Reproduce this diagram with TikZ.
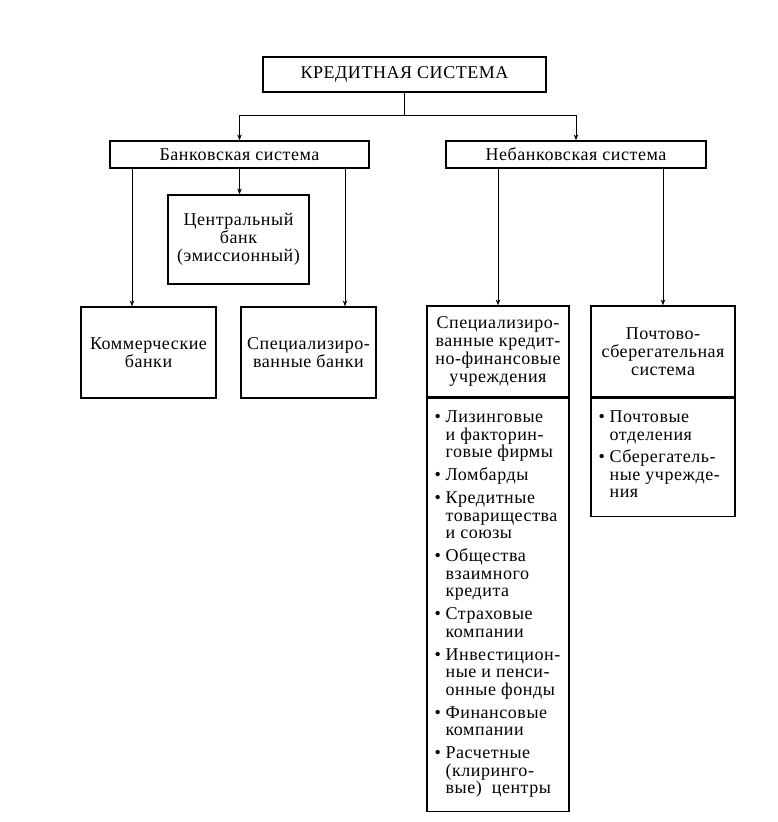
\documentclass[tikz,border=0pt]{standalone}
\usepackage{fontspec}
\setmainfont{Liberation Serif}[LetterSpace=3]
\usetikzlibrary{arrows.meta}
\newcommand{\bitem}[1]{\par\hangindent=11pt\hangafter=1\noindent\makebox[11pt][l]{•}#1}
\newcommand{\blist}[3]{\parbox[t]{#1}{\raggedright\fontsize{18}{17.5}\selectfont\parskip=#2\relax #3}}
\begin{document}
\begin{tikzpicture}[x=1pt,y=-1pt,
  box/.style={draw, line width=1.2pt, inner sep=0pt, align=center, font=\fontsize{18}{18}\selectfont},
  listbox/.style={draw, line width=1.2pt, inner sep=0pt},
  listtext/.style={anchor=north west, inner sep=0pt},
  conn/.style={line width=1pt},
  arr/.style={conn, -{Stealth[length=6pt,width=4.5pt]}}]
\useasboundingbox (0,0) rectangle (778,822);
\node[box, minimum width=283pt, minimum height=35pt] (top) at (404.5,74.5) {КРЕДИТНАЯ СИСТЕМА};
\node[box, minimum width=259pt, minimum height=27pt] (bank) at (239.5,154.5) {Банковская система};
\node[box, minimum width=260pt, minimum height=27pt] (nonbank) at (576,154.5) {Небанковская система};
\node[box, minimum width=141pt, minimum height=89pt] (central) at (238.5,239.5) {Центральный\\банк\\(эмиссионный)};
\node[box, minimum width=135pt, minimum height=91pt] (comm) at (148.5,352.5) {Коммерческие\\банки};
\node[box, minimum width=135pt, minimum height=91pt] (specb) at (308.5,352.5) {Специализиро-\\ванные банки};
\node[box, minimum width=142pt, minimum height=91pt] (crhead) at (498,351.5) {Специализиро-\\ванные кредит-\\но-финансовые\\учреждения};
\node[box, minimum width=144pt, minimum height=91pt] (posthead) at (663,351.5) {Почтово-\\сберегательная\\система};
\node[listbox, minimum width=142pt, minimum height=413pt, anchor=north] (crlist) at (crhead.south) {};
\node[listbox, minimum width=144pt, minimum height=118pt, anchor=north] (postlist) at (posthead.south) {};
\node[listtext] (crtext) at ([shift={(8,13)}]crlist.north west) {\blist{132pt}{5.5pt}{%
\bitem{Лизинговые\newline и факторин-\newline говые фирмы}
\bitem{Ломбарды}
\bitem{Кредитные\newline товарищества\newline и союзы}
\bitem{Общества\newline взаимного\newline кредита}
\bitem{Страховые\newline компании}
\bitem{Инвестицион-\newline ные и пенси-\newline онные фонды}
\bitem{Финансовые\newline компании}
\bitem{Расчетные\newline (клиринго-\newline вые)\ \ центры}}};
\node[listtext] (posttext) at ([shift={(8,13)}]postlist.north west) {\blist{134pt}{5pt}{%
\bitem{Почтовые\newline отделения}
\bitem{Сберегатель-\newline ные учрежде-\newline ния}}};
\coordinate (jt) at (404.5,115);
\draw[conn] (top.south) -- (jt);
\draw[arr] (jt) -| (bank.north);
\draw[arr] (jt) -| (nonbank.north);
\draw[arr] ([xshift=-107.5pt]bank.south) -- ([xshift=-16.5pt]comm.north);
\draw[arr] (bank.south) -- (bank.south |- central.north);
\draw[arr] ([xshift=105.5pt]bank.south) -- ([xshift=36.5pt]specb.north);
\draw[arr] (nonbank.south -| crhead.north) -- (crhead.north);
\draw[arr] (nonbank.south -| posthead.north) -- (posthead.north);
\end{tikzpicture}
\end{document}
